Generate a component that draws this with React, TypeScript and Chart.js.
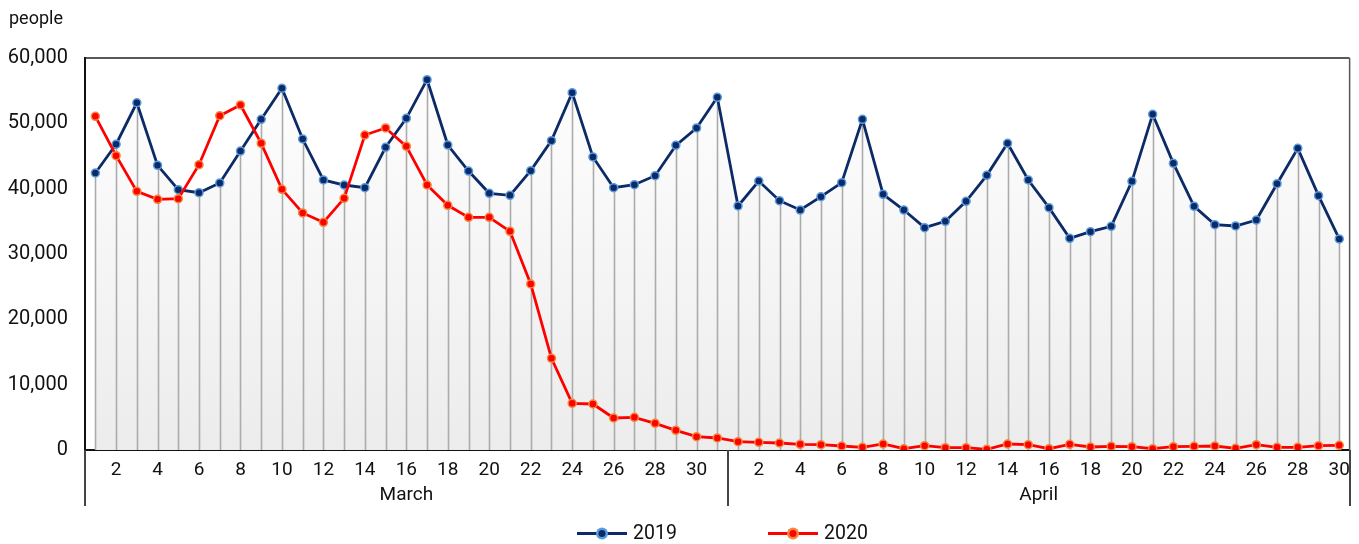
import React, { useEffect, useRef } from 'react';
import { Chart, registerables } from 'chart.js';

Chart.register(...registerables);

const monthNames = ['March', 'April'];
const monthLengths = [31, 30];
const dayNumbers = [
  1, 2, 3, 4, 5, 6, 7, 8, 9, 10, 11, 12, 13, 14, 15, 16, 17, 18, 19, 20, 21, 22, 23, 24, 25, 26, 27, 28, 29, 30, 31,
  1, 2, 3, 4, 5, 6, 7, 8, 9, 10, 11, 12, 13, 14, 15, 16, 17, 18, 19, 20, 21, 22, 23, 24, 25, 26, 27, 28, 29, 30,
];
const seriesNames = ['2019', '2020'];
const visitors2019 = [
  42400, 46800, 53150, 43570, 39840, 39380, 40870, 45760, 50610, 55360, 47600, 41330, 40560, 40150, 46330, 50770,
  56680, 46680, 42700, 39290, 38980, 42760, 47350, 54690, 44850, 40150, 40610, 41990, 46630, 49290, 53980,
  37350, 41170, 38160, 36730, 38770, 40920, 50610, 39130, 36730, 34030, 35000, 38060, 42040, 46940, 41330,
  37090, 32400, 33420, 34240, 41120, 51380, 43880, 37300, 34490, 34290, 35200, 40760, 46170, 38930, 32300,
];
const visitors2020 = [
  51070, 45050, 39590, 38370, 38470, 43670, 51170, 52810, 46940, 39900, 36280, 34850, 38520, 48210, 49290, 46480,
  40560, 37450, 35610, 35610, 33470, 25410, 14030, 7140, 7040, 4900, 5000, 4080, 3010, 2040, 1840,
  1270, 1170, 1070, 870, 810, 610, 410, 920, 200, 660, 350, 350, 100, 920, 810,
  200, 870, 460, 560, 510, 200, 510, 560, 610, 250, 810, 410, 410, 660, 710,
];
const yTickValues = [0, 10000, 20000, 30000, 40000, 50000, 60000];
const yUnitLabel = 'people';

const FONT = 'Roboto, "Liberation Sans", sans-serif';
const NAVY = '#0b2a66';
const NAVY_RING = '#5b9be0';
const RED = '#ff0000';
const RED_RING = '#f5873a';

const decorPlugin = {
  id: 'decor',
  beforeDatasetsDraw(chart: any) {
    const { ctx } = chart;
    const meta = chart.getDatasetMeta(0);
    const yZero = chart.scales.y.getPixelForValue(0);
    ctx.save();
    ctx.strokeStyle = '#ababab';
    ctx.lineWidth = 1.6;
    meta.data.forEach((pt: any) => {
      const x = Math.round(pt.x) + 0.5;
      ctx.beginPath();
      ctx.moveTo(x, yZero);
      ctx.lineTo(x, pt.y);
      ctx.stroke();
    });
    ctx.restore();
  },
  afterDraw(chart: any) {
    const { ctx, chartArea } = chart;
    const xs = chart.scales.x;
    ctx.save();
    ctx.strokeStyle = '#222';
    ctx.lineWidth = 1.5;
    ctx.beginPath();
    ctx.moveTo(chartArea.left, chartArea.top);
    ctx.lineTo(chartArea.right, chartArea.top);
    ctx.stroke();
    ctx.strokeStyle = '#555';
    ctx.beginPath();
    ctx.moveTo(chartArea.right, chartArea.top);
    ctx.lineTo(chartArea.right, chartArea.bottom);
    ctx.stroke();
    const bounds: number[] = [chartArea.left];
    let idx = 0;
    monthLengths.forEach((len, m) => {
      idx += len;
      if (m < monthLengths.length - 1) {
        bounds.push((xs.getPixelForValue(idx - 1) + xs.getPixelForValue(idx)) / 2);
      }
    });
    bounds.push(chartArea.right);
    ctx.strokeStyle = '#444';
    ctx.lineWidth = 2;
    bounds.forEach((bx) => {
      ctx.beginPath();
      ctx.moveTo(Math.round(bx), chartArea.bottom);
      ctx.lineTo(Math.round(bx), chartArea.bottom + 56);
      ctx.stroke();
    });
    ctx.fillStyle = '#111';
    ctx.font = `19px ${FONT}`;
    ctx.textAlign = 'center';
    ctx.textBaseline = 'middle';
    monthNames.forEach((name, m) => {
      ctx.fillText(name, (bounds[m] + bounds[m + 1]) / 2, chartArea.bottom + 45);
    });
    ctx.textAlign = 'left';
    ctx.textBaseline = 'alphabetic';
    ctx.font = `18px ${FONT}`;
    ctx.fillText(yUnitLabel, 9, 24);
    const items = [
      { label: seriesNames[0], x: 577, line: NAVY, ring: NAVY_RING, dot: NAVY },
      { label: seriesNames[1], x: 768, line: RED, ring: RED_RING, dot: RED },
    ];
    const ly = 533.5;
    items.forEach((it) => {
      ctx.strokeStyle = it.line;
      ctx.lineWidth = 3;
      ctx.beginPath();
      ctx.moveTo(it.x, ly);
      ctx.lineTo(it.x + 50, ly);
      ctx.stroke();
      ctx.fillStyle = it.ring;
      ctx.beginPath();
      ctx.arc(it.x + 25, ly, 6, 0, Math.PI * 2);
      ctx.fill();
      ctx.fillStyle = it.dot;
      ctx.beginPath();
      ctx.arc(it.x + 25, ly, 3.5, 0, Math.PI * 2);
      ctx.fill();
      ctx.fillStyle = '#111';
      ctx.font = `19.5px ${FONT}`;
      ctx.textBaseline = 'middle';
      ctx.fillText(it.label, it.x + 56, ly + 1);
    });
    ctx.restore();
  },
};

export default function App() {
  const canvasRef = useRef<HTMLCanvasElement | null>(null);

  useEffect(() => {
    document.body.style.margin = '0';
    const canvas = canvasRef.current;
    if (!canvas) return;
    const chart = new Chart(canvas, {
      type: 'line',
      data: {
        labels: dayNumbers.map((d) => String(d)),
        datasets: [
          {
            label: seriesNames[0],
            data: visitors2019,
            borderColor: NAVY,
            borderWidth: 2.8,
            pointRadius: 4,
            pointBackgroundColor: NAVY,
            pointBorderColor: NAVY_RING,
            pointBorderWidth: 1.5,
            tension: 0,
            order: 1,
            fill: 'origin',
            backgroundColor: (context: any) => {
              const { chart } = context;
              const area = chart.chartArea;
              if (!area) return '#f4f4f4';
              const g = chart.ctx.createLinearGradient(0, area.top, 0, area.bottom);
              g.addColorStop(0, '#ffffff');
              g.addColorStop(1, '#ececec');
              return g;
            },
          },
          {
            label: seriesNames[1],
            data: visitors2020,
            borderColor: RED,
            borderWidth: 2.8,
            pointRadius: 4,
            pointBackgroundColor: RED,
            pointBorderColor: RED_RING,
            pointBorderWidth: 1.5,
            tension: 0,
            order: 0,
            fill: false,
          },
        ],
      },
      options: {
        animation: false,
        responsive: true,
        maintainAspectRatio: false,
        layout: { padding: { top: 58, right: 9, left: 0, bottom: 0 } },
        plugins: {
          legend: { display: false },
          tooltip: { enabled: false },
          filler: { drawTime: 'beforeDatasetsDraw' } as any,
        },
        scales: {
          x: {
            offset: true,
            grid: { display: false, drawTicks: false },
            border: { display: true, color: '#111', width: 2 },
            ticks: {
              autoSkip: false,
              maxRotation: 0,
              padding: 9,
              color: '#111',
              font: { family: FONT, size: 19 },
              callback: (_v: any, i: number) => (dayNumbers[i] % 2 === 0 ? String(dayNumbers[i]) : ''),
            },
            afterFit: (scale: any) => {
              scale.height = 94;
            },
          },
          y: {
            min: yTickValues[0],
            max: yTickValues[yTickValues.length - 1],
            grid: { display: false, drawTicks: false },
            border: { display: true, color: '#111', width: 2 },
            afterBuildTicks: (scale: any) => {
              scale.ticks = yTickValues.map((v) => ({ value: v }));
            },
            ticks: {
              padding: 17,
              color: '#111',
              font: { family: FONT, size: 20 },
              callback: (v: any) => Number(v).toLocaleString('en-US'),
            },
            afterFit: (scale: any) => {
              scale.width = 85;
            },
          },
        },
      },
      plugins: [decorPlugin],
    });
    return () => chart.destroy();
  }, []);

  return (
    <div style={{ position: 'fixed', left: 0, top: 0, width: 1359, height: 544 }}>
      <canvas ref={canvasRef} />
    </div>
  );
}
